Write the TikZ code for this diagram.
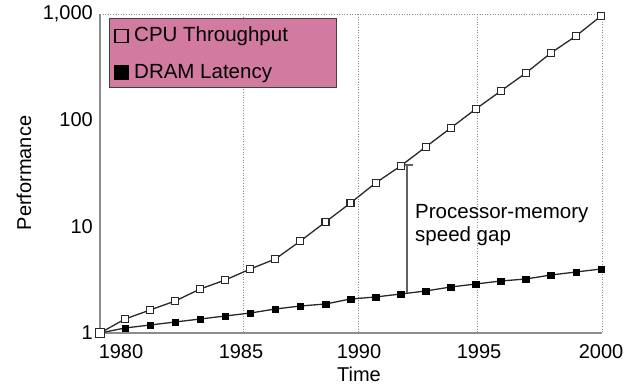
\documentclass[tikz,border=0pt]{standalone}
\usepackage{fontspec}
\setmainfont{Liberation Sans}
\usetikzlibrary{calc}
\definecolor{legendpink}{RGB}{210,122,160}
\definecolor{axisgray}{RGB}{140,140,140}
\definecolor{plotline}{RGB}{40,40,40}
\tikzset{
  gridline/.style={axisgray, line width=0.9pt, dash pattern=on 1pt off 1.6pt},
  axisline/.style={axisgray, line width=1.4pt},
  curve/.style={plotline, line width=1.3pt},
  openmark/.style={draw=plotline, fill=white, line width=1.1pt, minimum size=7pt, inner sep=0pt, rectangle},
  fullmark/.style={draw=black, fill=black, minimum size=6.5pt, inner sep=0pt, rectangle},
  ticklabel/.style={font=\fontsize{20}{24}\selectfont, inner sep=0pt},
  plaintext/.style={font=\fontsize{20.5}{24}\selectfont, inner sep=0pt, align=left},
}
\begin{document}
\begin{tikzpicture}[x=1pt,y=-1pt]
\useasboundingbox (0,0) rectangle (626,385);

% dotted grid: top edge and vertical year lines
\coordinate (gtl) at (100,14);
\coordinate (gtr) at (602,14);
\draw[gridline] (gtl) -- (gtr);
\foreach \gx/\gn in {243/a,358/b,477/c,602/d}{
  \coordinate (gt\gn) at (\gx,14);
  \coordinate (gb\gn) at (\gx,333);
  \draw[gridline] (gt\gn) -- (gb\gn);
}

% axes
\coordinate (ytop) at (100,14);
\coordinate (orig) at (100,333);
\coordinate (xend) at (602,333);
\draw[axisline] (ytop) -- (orig) -- (xend);

% y tick labels
\node[ticklabel, anchor=east] (y1000) at (93,14) {1,000};
\node[ticklabel, anchor=east] (y100) at (93,120) {100};
\node[ticklabel, anchor=east] (y10) at (93,227) {10};
\node[ticklabel, anchor=east] (y1) at (93,333) {1};

% x tick labels
\node[ticklabel] (x1980) at (121,352) {1980};
\node[ticklabel] (x1985) at (241,352) {1985};
\node[ticklabel] (x1990) at (359,352) {1990};
\node[ticklabel] (x1995) at (479,352) {1995};
\node[ticklabel] (x2000) at (601,352) {2000};

% axis titles
\node[ticklabel] (xtitle) at (359,374) {Time};
\node[ticklabel, rotate=90] (ytitle) at (24,173) {Performance};

% data points (one per year)
\foreach \cy [count=\k from 0] in {333,319,310,301,289,280,269,259,241,222,203,183,166,147,128,109,91,73,53,36,16}{
  \coordinate (c\k) at ({100+25.05*\k},\cy);
}
\foreach \dy [count=\k from 0] in {333,328,325,322,319,316,313,309,306,304,299,297,294,291,287,284,281,279,275,272,269}{
  \coordinate (d\k) at ({100+25.05*\k},\dy);
}

% curves
\draw[curve] (c0) \foreach \k in {1,...,20}{ -- (c\k) };
\draw[curve] (d0) \foreach \k in {1,...,20}{ -- (d\k) };

% processor-memory gap marker
\coordinate (gaptop) at (407,165);
\coordinate (gapbot) at (407,293);
\coordinate (barl) at (402,165);
\coordinate (barr) at (413,165);
\draw[axisgray!70!black, line width=1.1pt] (barl) -- (barr);
\draw[axisgray!70!black, line width=1.1pt] (gaptop) -- (gapbot);

% markers
\foreach \k in {1,...,20}{
  \node[fullmark] (dm\k) at (d\k) {};
}
\foreach \k in {1,...,20}{
  \node[openmark] (cm\k) at (c\k) {};
}
\node[openmark, minimum size=9pt] (cm0) at (c0) {};

% gap label
\node[plaintext, anchor=base west] (gap1) at (415,218) {Processor-memory};
\node[plaintext, anchor=base west] (gap2) at (415,241) {speed gap};

% legend
\node[draw=black!75, fill=legendpink, line width=1pt, minimum width=227pt, minimum height=69pt, inner sep=0pt, anchor=north west] (legend) at (109,18) {};
\node[draw=black, line width=1.8pt, minimum size=13pt, inner sep=0pt] (lk1) at (121.5,36) {};
\node[draw=black, fill=black, minimum size=14pt, inner sep=0pt] (lk2) at (121.5,72) {};
\node[plaintext, anchor=base west] (lt1) at (134,42) {CPU Throughput};
\node[plaintext, anchor=base west] (lt2) at (134,79) {DRAM Latency};
\end{tikzpicture}
\end{document}
